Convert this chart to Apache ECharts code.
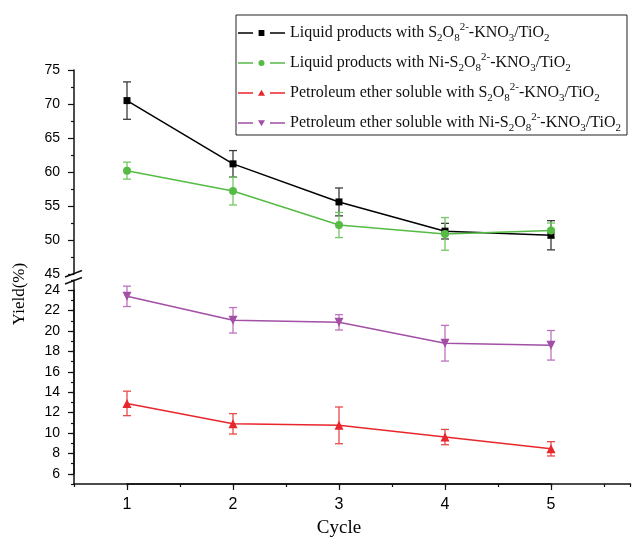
<!DOCTYPE html>
<html><head><meta charset="utf-8">
<script src="https://cdn.jsdelivr.net/npm/echarts@6/dist/echarts.min.js"></script>
<style>html,body{margin:0;padding:0;background:#fff}#c{width:633px;height:548px}</style>
</head><body><div id="c"></div>
<script>
// ---- data ----
const cycles = [1, 2, 3, 4, 5];
const liquidS = [70.5, 61.2, 55.6, 51.3, 50.7];
const liquidSErr = [2.75, 1.95, 2.05, 1.15, 2.15];
const liquidNi = [60.2, 57.2, 52.2, 50.9, 51.4];
const liquidNiErr = [1.25, 2.05, 1.85, 2.4, 1.1];
const peS = [12.9, 10.9, 10.75, 9.6, 8.45];
const peSErr = [1.2, 1.0, 1.8, 0.75, 0.7];
const peNi = [23.4, 21.05, 20.85, 18.8, 18.6];
const peNiErr = [1.0, 1.25, 0.75, 1.75, 1.45];
const upperYLabels = [45, 50, 55, 60, 65, 70, 75];
const lowerYLabels = [6, 8, 10, 12, 14, 16, 18, 20, 22, 24];
const xLabels = [1, 2, 3, 4, 5];
const seriesNames = [
  'Liquid products with S2O82--KNO3/TiO2',
  'Liquid products with Ni-S2O82--KNO3/TiO2',
  'Petroleum ether soluble with S2O82--KNO3/TiO2',
  'Petroleum ether soluble with Ni-S2O82--KNO3/TiO2'
];
const legendRich = [
  'Liquid products with S{sub|2}O{sub|8}{sup|2-}-KNO{sub|3}/TiO{sub|2}',
  'Liquid products with Ni-S{sub|2}O{sub|8}{sup|2-}-KNO{sub|3}/TiO{sub|2}',
  'Petroleum ether soluble with S{sub|2}O{sub|8}{sup|2-}-KNO{sub|3}/TiO{sub|2}',
  'Petroleum ether soluble with Ni-S{sub|2}O{sub|8}{sup|2-}-KNO{sub|3}/TiO{sub|2}'
];
const xAxisTitle = 'Cycle';
const yAxisTitle = 'Yield(%)';

// ---- styles ----
const colors = ['#000000', '#55bb45', '#e8262b', '#a24fa6'];
const errColors = ['#3a3a3a', '#72c862', '#e84a4a', '#bf72c0'];
const symbols = ['rect', 'circle', 'triangle', 'triangle'];
const symbolRot = [0, 0, 0, 180];
const symbolSizes = [7, 8, 9, 9];
const axisColor = '#111';
const sans = '"Liberation Sans", Arial, sans-serif';
const serif = '"Liberation Serif", "Times New Roman", serif';

// legend icons: line - marker - line with gaps (bbox fixed to 47x10)
const iconFrame = 'M0,0L0.01,0L0,0.01Z M46.99,10L47,10L47,9.99Z ';
const iconBars = 'M0,4.3H15V5.7H0Z M32,4.3H47V5.7H32Z ';
const legendIcons = [
  'path://' + iconFrame + iconBars + 'M20.6,2.1H26.4V7.9H20.6Z',
  'path://' + iconFrame + iconBars + 'M20.5,5A3,3 0 1,0 26.5,5A3,3 0 1,0 20.5,5Z',
  'path://' + iconFrame + iconBars + 'M23.5,1.8L27,7.8L20,7.8Z',
  'path://' + iconFrame + iconBars + 'M20,2.2L27,2.2L23.5,8.2Z'
];

const chart = echarts.init(document.getElementById('c'), null, {renderer: 'canvas'});

function pairs(xs, ys) { return xs.map((x, i) => [x, ys[i]]); }
function triples(xs, ys, es) { return xs.map((x, i) => [x, ys[i], es[i]]); }

function errSeries(data, gi, color) {
  return {
    type: 'custom', coordinateSystem: 'cartesian2d', xAxisIndex: gi, yAxisIndex: gi,
    data: data, z: 1, silent: true,
    encode: {x: 0, y: 1},
    renderItem: function (params, api) {
      const x = api.value(0), y = api.value(1), e = api.value(2);
      const hi = api.coord([x, y + e]);
      const lo = api.coord([x, y - e]);
      const cw = 4;
      const st = {stroke: color, lineWidth: 1.3};
      return {type: 'group', children: [
        {type: 'line', shape: {x1: hi[0], y1: hi[1], x2: lo[0], y2: lo[1]}, style: st},
        {type: 'line', shape: {x1: hi[0] - cw, y1: hi[1], x2: hi[0] + cw, y2: hi[1]}, style: st},
        {type: 'line', shape: {x1: lo[0] - cw, y1: lo[1], x2: lo[0] + cw, y2: lo[1]}, style: st}
      ]};
    }
  };
}

function lineSeries(idx, data, gi) {
  return {
    name: seriesNames[idx], type: 'line', xAxisIndex: gi, yAxisIndex: gi,
    data: data, z: 3,
    symbol: symbols[idx], symbolSize: symbolSizes[idx], symbolRotate: symbolRot[idx],
    showAllSymbol: true,
    lineStyle: {color: colors[idx], width: 1.5},
    itemStyle: {color: colors[idx]}
  };
}

const axLine = {show: true, lineStyle: {color: axisColor, width: 1.5}};

const option = {
  animation: false,
  backgroundColor: '#ffffff',
  grid: [
    {left: 74, top: 70, width: 556.5, height: 204},
    {left: 74, top: 280, width: 556.5, height: 204},
    {left: 74, top: 290.2, width: 556.5, height: 183.6},
    {left: 127, top: 280, width: 424, height: 204}
  ],
  xAxis: [
    {gridIndex: 0, type: 'value', min: 0.5, max: 5.75, show: false},
    {gridIndex: 1, type: 'value', min: 0.5, max: 5.75, interval: 0.5,
      axisLine: axLine, axisTick: {show: true, length: 3, lineStyle: {color: axisColor, width: 1.2}},
      axisLabel: {show: false}, splitLine: {show: false}},
    {gridIndex: 2, type: 'value', min: 0.5, max: 5.75, show: false},
    {gridIndex: 3, type: 'value', min: 1, max: 5, interval: 1,
      axisLine: axLine, axisTick: {show: true, length: 6, lineStyle: {color: axisColor, width: 1.2}},
      axisLabel: {show: true, margin: 13, color: '#000', fontFamily: sans, fontSize: 16,
        formatter: v => xLabels.includes(v) ? String(v) : ''},
      splitLine: {show: false}}
  ],
  yAxis: [
    {gridIndex: 0, type: 'value', min: 45, max: 75, interval: 5,
      axisLine: axLine, axisTick: {show: true, length: 6, lineStyle: {color: axisColor, width: 1.2}},
      minorTick: {show: true, splitNumber: 2, length: 3, lineStyle: {color: axisColor, width: 1.2}},
      axisLabel: {show: true, margin: 14, color: '#000', fontFamily: sans, fontSize: 14,
        formatter: v => upperYLabels.includes(v) ? String(v) : ''},
      splitLine: {show: false}},
    {gridIndex: 1, type: 'value', min: 5, max: 25, interval: 1,
      axisLine: axLine, axisTick: {show: true, length: 3, lineStyle: {color: axisColor, width: 1.2}},
      axisLabel: {show: false}, splitLine: {show: false}},
    {gridIndex: 2, type: 'value', min: 6, max: 24, interval: 2,
      axisLine: axLine, axisTick: {show: true, length: 6, lineStyle: {color: axisColor, width: 1.2}},
      axisLabel: {show: true, margin: 14, color: '#000', fontFamily: sans, fontSize: 14,
        formatter: v => lowerYLabels.includes(v) ? String(v) : ''},
      splitLine: {show: false}},
    {gridIndex: 3, type: 'value', min: 5, max: 25, show: false}
  ],
  legend: {
    orient: 'vertical', left: 236, top: 15,
    padding: [7, 6, 1, 2], itemGap: 8, itemWidth: 47, itemHeight: 10,
    borderColor: '#222', borderWidth: 1, backgroundColor: '#fff',
    data: seriesNames.map((n, i) => ({name: n, icon: legendIcons[i]})),
    formatter: name => legendRich[seriesNames.indexOf(name)],
    textStyle: {
      color: '#111', fontFamily: serif, fontSize: 16, lineHeight: 22,
      rich: {
        sub: {fontFamily: serif, fontSize: 11, lineHeight: 10, verticalAlign: 'bottom', color: '#111'},
        sup: {fontFamily: serif, fontSize: 11, lineHeight: 10, verticalAlign: 'top', color: '#111'}
      }
    }
  },
  graphic: [
    {type: 'text', x: 339, y: 528, z: 10,
      style: {text: xAxisTitle, font: '19px ' + serif, fill: '#000', textAlign: 'center', textVerticalAlign: 'middle'}},
    {type: 'text', x: 20, y: 294, rotation: Math.PI / 2, z: 10,
      style: {text: yAxisTitle, font: '17px ' + serif, fill: '#000', textAlign: 'center', textVerticalAlign: 'middle'}},
    {type: 'line', z: 10, shape: {x1: 65, y1: 277, x2: 82, y2: 270.5}, style: {stroke: axisColor, lineWidth: 1.4}},
    {type: 'line', z: 10, shape: {x1: 65, y1: 284, x2: 82, y2: 277.5}, style: {stroke: axisColor, lineWidth: 1.4}}
  ],
  series: [
    errSeries(triples(cycles, liquidS, liquidSErr), 0, errColors[0]),
    errSeries(triples(cycles, liquidNi, liquidNiErr), 0, errColors[1]),
    errSeries(triples(cycles, peS, peSErr), 1, errColors[2]),
    errSeries(triples(cycles, peNi, peNiErr), 1, errColors[3]),
    lineSeries(0, pairs(cycles, liquidS), 0),
    lineSeries(1, pairs(cycles, liquidNi), 0),
    lineSeries(2, pairs(cycles, peS), 1),
    lineSeries(3, pairs(cycles, peNi), 1)
  ]
};
chart.setOption(option);
</script>
</body></html>
